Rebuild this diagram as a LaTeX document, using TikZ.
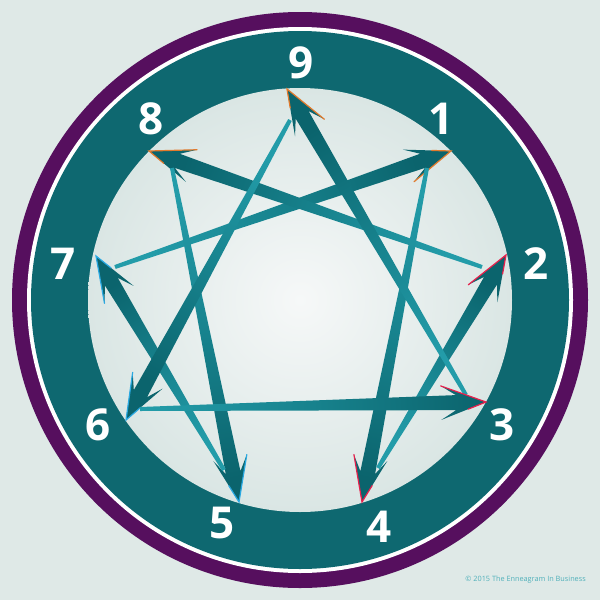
\documentclass[tikz,border=0pt]{standalone}
\usepackage{fontspec}
\setmainfont{Open Sans}
\usepackage{tikz}
\usetikzlibrary{calc}
\definecolor{bgcol}{HTML}{DFE9E7}
\definecolor{ringpurple}{HTML}{560F5E}
\definecolor{ringteal}{HTML}{0E6870}
\definecolor{darkteal}{HTML}{0B646D}
\definecolor{midteal}{HTML}{17828D}
\definecolor{lightteal}{HTML}{239CA9}
\definecolor{discout}{HTML}{DAE6E4}
\definecolor{discin}{HTML}{F6F8F8}
\definecolor{gutcol}{HTML}{E27A2C}
\definecolor{heartcol}{HTML}{E8204C}
\definecolor{headcol}{HTML}{2AA9E2}
\tikzset{
    %Define style for the numbers on the ring
    num/.style={
           text=white,
           font=\fontsize{44}{44}\selectfont\bfseries,
           inner sep=0pt},
    %Define style for the coloured edge of a head
    rim/.style={
           line width=1.2pt,
           line cap=round,
           line join=miter},
    small/.style={
           font=\fontsize{7.3}{7.3}\selectfont,
           text=lightteal!80,
           inner sep=0pt}
}
% tapered arrow: start, tip, rim colour, full rim barb, short rim barb
\newcommand\enneaarrow[5]{%
  \coordinate (hb) at ($(#2)!45pt!(#1)$);
  \coordinate (hn) at ($(#2)!30pt!(#1)$);
  \coordinate (bl) at ($(hb)!17pt!90:(#2)$);
  \coordinate (br) at ($(hb)!17pt!-90:(#2)$);
  \coordinate (nl) at ($(hn)!7.5pt!90:(#2)$);
  \coordinate (nr) at ($(hn)!7.5pt!-90:(#2)$);
  \coordinate (sl) at ($(#1)!2pt!90:(#2)$);
  \coordinate (sr) at ($(#1)!2pt!-90:(#2)$);
  \pgfmathanglebetweenpoints{\pgfpointanchor{#1}{center}}{\pgfpointanchor{#2}{center}}%
  \pgfmathsetmacro\shadeang{\pgfmathresult+90}%
  \shade[top color=lightteal, bottom color=darkteal, middle color=midteal, shading angle=\shadeang]
    (sl) -- (nl) -- (bl) -- (#2) -- (br) -- (nr) -- (sr) -- cycle;
  \draw[rim, draw=#3] (#4) -- (#2) -- ($(#2)!0.4!(#5)$);
}

\begin{document}
\begin{tikzpicture}[x=1pt,y=-1pt]
\useasboundingbox[fill=bgcol] (0,0) rectangle (600,600);
\coordinate (c) at (300,300);
 %rings
\fill[ringpurple] (c) circle[radius=288pt];
\fill[white] (c) circle[radius=273pt];
\fill[ringteal] (c) circle[radius=269pt];
\shade[inner color=discin, outer color=discout] (c) circle[radius=212pt];
 %numbers
\node[num](n9) at (301,63){9};
\node[num](n1) at (441,119){1};
\node[num](n2) at (536,264){2};
\node[num](n3) at (502,425){3};
\node[num](n4) at (379,527){4};
\node[num](n5) at (222,523){5};
\node[num](n6) at (98,425){6};
\node[num](n7) at (63,264){7};
\node[num](n8) at (151,119){8};
 %tips
\coordinate (t9) at (287,89);
\coordinate (t1) at (451,151);
\coordinate (t2) at (506,255);
\coordinate (t3) at (486,402);
\coordinate (t4) at (362,502);
\coordinate (t5) at (239,502);
\coordinate (t6) at (126,420);
\coordinate (t7) at (96,256);
\coordinate (t8) at (149,151);
 %starts
\coordinate (a14) at (427,168);
\coordinate (a42) at (378,468);
\coordinate (a28) at (482,267);
\coordinate (a85) at (172,168);
\coordinate (a57) at (224,470);
\coordinate (a71) at (115,267);
\coordinate (a96) at (290,120);
\coordinate (a63) at (140,409);
\coordinate (a39) at (466,395);
 %arrows
\enneaarrow{a71}{t1}{gutcol}{br}{bl}
\enneaarrow{a28}{t8}{gutcol}{br}{bl}
\enneaarrow{a14}{t4}{heartcol}{br}{bl}
\enneaarrow{a42}{t2}{heartcol}{bl}{br}
\enneaarrow{a85}{t5}{headcol}{bl}{br}
\enneaarrow{a57}{t7}{headcol}{bl}{br}
\enneaarrow{a96}{t6}{headcol}{br}{bl}
\enneaarrow{a39}{t9}{gutcol}{br}{bl}
\enneaarrow{a63}{t3}{heartcol}{bl}{br}
\node[small, anchor=east](copy) at (586,580){© 2015 The Enneagram In Business};
\end{tikzpicture}
\end{document}
